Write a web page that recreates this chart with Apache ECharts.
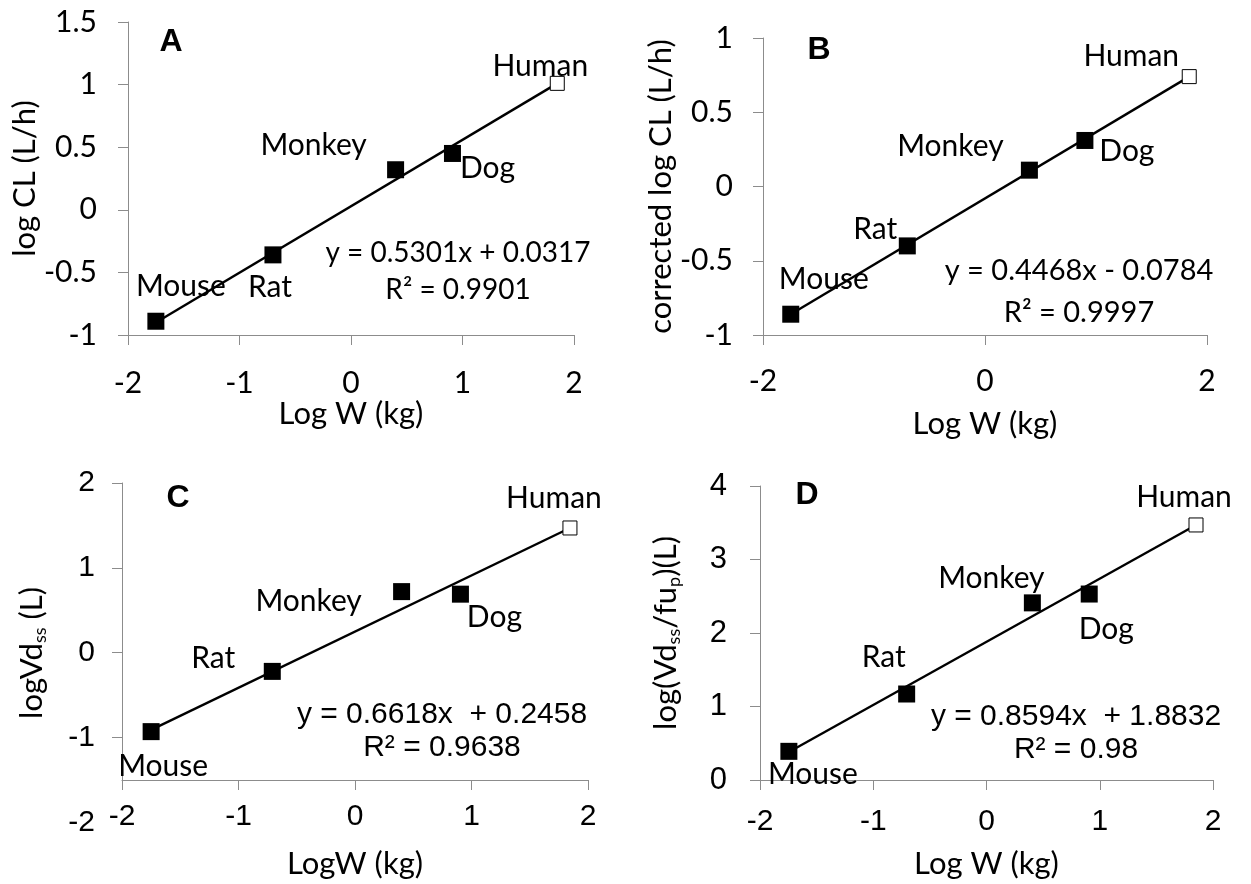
<!DOCTYPE html>
<html>
<head>
<meta charset="utf-8">
<script src="https://cdn.jsdelivr.net/npm/echarts@6/dist/echarts.min.js"></script>
<style>
  html, body { margin: 0; padding: 0; background: #fff; }
  #chart { width: 1251px; height: 884px; }
</style>
</head>
<body>
<div id="chart"></div>
<script>
// species, in the same order everywhere
const species = ['Mouse', 'Rat', 'Monkey', 'Dog', 'Human'];

// panel A : log CL vs log W
const logW_A = [-1.75, -0.70, 0.40, 0.91, 1.85];
const logCL_A = [-0.89, -0.36, 0.32, 0.45, 1.01];
const trend_A = [[-1.75, -0.90], [1.85, 1.01]];

// panel B : corrected log CL
const logW_B = [-1.75, -0.70, 0.40, 0.90, 1.84];
const corrCL_B = [-0.86, -0.40, 0.11, 0.31, 0.74];
const trend_B = [[-1.75, -0.86], [1.84, 0.74]];

// panel C : log Vdss
const logW_C = [-1.75, -0.71, 0.40, 0.905, 1.845];
const logVd_C = [-0.93, -0.22, 0.72, 0.69, 1.47];
const trend_C = [[-1.75, -0.91], [1.845, 1.47]];

// panel D : log(Vdss/fup)
const logW_D = [-1.745, -0.705, 0.405, 0.907, 1.85];
const logVdfu_D = [0.39, 1.17, 2.41, 2.53, 3.47];
const trend_D = [[-1.745, 0.38], [1.85, 3.47]];

// equation texts
const eqA = ['y = 0.5301x + 0.0317', 'R\u00b2 = 0.9901'];
const eqB = ['y = 0.4468x - 0.0784', 'R\u00b2 = 0.9997'];
const eqC = ['y = 0.6618x  + 0.2458', 'R\u00b2 = 0.9638'];
const eqD = ['y = 0.8594x  + 1.8832', 'R\u00b2 = 0.98'];

// label offsets (style only), order as species
const offA = [[25, -35], [-3, 32], [-82, -24], [35, 15], [-17, -17]];
const offB = [[33, -35], [-32, -17], [-79, -24], [42, 11], [-58, -20]];
const offC = [[12, 35], [-59, -13], [-93, 10], [34, 23], [-16, -30]];
const offD = [[24, 23], [-23, -37], [-41, -25], [17, 35], [-12, -28]];

const CAL = 'Lato';
const ARI = 'Liberation Sans';
const AXC = '#8c8c8c';

let dom = document.getElementById('chart');
let chart = echarts.init(dom, null, { renderer: 'canvas' });

function pointData(xs, ys, offs) {
    return xs.map(function (x, i) {
        let item = {
            value: [x, ys[i]],
            name: species[i],
            label: { offset: offs[i] }
        };
        if (species[i] === 'Human') {
            item.symbolSize = 14;
            item.itemStyle = { color: '#fff', borderColor: '#000', borderWidth: 1, opacity: 1 };
        }
        return item;
    });
}

function scatter(idx, xs, ys, offs) {
    return {
        type: 'scatter',
        xAxisIndex: idx,
        yAxisIndex: idx,
        symbol: 'rect',
        symbolSize: 17,
        itemStyle: { color: '#000', opacity: 1 },
        z: 5,
        label: {
            show: true,
            position: 'inside',
            formatter: '{b}',
            color: '#000',
            opacity: 1,
            fontFamily: CAL,
            fontSize: 30
        },
        data: pointData(xs, ys, offs)
    };
}

function trend(idx, pts) {
    return {
        type: 'line',
        xAxisIndex: idx,
        yAxisIndex: idx,
        symbol: 'none',
        lineStyle: { color: '#000', width: 2.4 },
        z: 3,
        data: pts
    };
}

function axis(extra) {
    let base = {
        type: 'value',
        axisLine: { show: true, onZero: false, lineStyle: { color: AXC, width: 1 } },
        axisTick: { show: true, length: 10, lineStyle: { color: AXC, width: 1 } },
        splitLine: { show: false },
        nameLocation: 'middle'
    };
    return Object.assign(base, extra);
}

function lbl(font, size, margin) {
    return { color: '#000', fontFamily: font, fontSize: size, margin: margin };
}
function nameStyle(font) {
    return {
        color: '#000', fontFamily: font, fontSize: 31,
        rich: {
            m: { fontFamily: font, fontSize: 31, lineHeight: 34, color: '#000' },
            s: { fontFamily: font, fontSize: 18, lineHeight: 34, verticalAlign: 'bottom', color: '#000' }
        }
    };
}

function eqText(x, y, lines, font, size) {
    return lines.map(function (t, i) {
        return {
            type: 'text',
            x: x,
            y: y[i],
            style: {
                text: t, fill: '#000', fontFamily: font, fontSize: size,
                align: 'center', verticalAlign: 'middle'
            }
        };
    });
}
function letter(x, y, t) {
    return {
        type: 'text', x: x, y: y,
        style: {
            text: t, fill: '#000', fontFamily: ARI, fontWeight: 'bold', fontSize: 32,
            align: 'center', verticalAlign: 'middle'
        }
    };
}

let option = {
    animation: false,
    backgroundColor: '#fff',
    grid: [
        { left: 128, top: 22, width: 446, height: 313 },
        { left: 763, top: 38, width: 444, height: 297 },
        { left: 122, top: 483, width: 466, height: 297 },
        { left: 760, top: 486, width: 453, height: 294 },
        { left: 122, top: 483, width: 466, height: 340 }
    ],
    xAxis: [
        axis({ gridIndex: 0, min: -2, max: 2, interval: 1, axisLabel: lbl(CAL, 30, 33),
            name: 'Log W (kg)', nameGap: 63, nameTextStyle: nameStyle(CAL) }),
        axis({ gridIndex: 1, min: -2, max: 2, interval: 2, axisLabel: lbl(CAL, 30, 31),
            name: 'Log W (kg)', nameGap: 73, nameTextStyle: nameStyle(CAL) }),
        axis({ gridIndex: 2, min: -2, max: 2, interval: 1, axisLabel: lbl(ARI, 30, 22),
            name: 'LogW (kg)', nameGap: 68, nameTextStyle: nameStyle(CAL) }),
        axis({ gridIndex: 3, min: -2, max: 2, interval: 1, axisLabel: lbl(ARI, 30, 27),
            name: 'Log W (kg)', nameGap: 68, nameTextStyle: nameStyle(CAL) }),
        axis({ gridIndex: 4, min: -2, max: 2, show: false })
    ],
    yAxis: [
        axis({ gridIndex: 0, min: -1, max: 1.5, interval: 0.5, axisLabel: lbl(CAL, 30, 31),
            name: 'log CL (L/h)', nameGap: 85, nameTextStyle: nameStyle(CAL) }),
        axis({ gridIndex: 1, min: -1, max: 1, interval: 0.5, axisLabel: lbl(CAL, 30, 30),
            name: 'corrected log CL (L/h)', nameGap: 84, nameTextStyle: nameStyle(CAL) }),
        axis({ gridIndex: 2, min: -1.5, max: 2,
            axisLabel: { show: false },
            axisTick: { show: true, length: 10, customValues: [-1, 0, 1, 2], lineStyle: { color: AXC, width: 1 } } }),
        axis({ gridIndex: 3, min: 0, max: 4, interval: 1, axisLabel: lbl(ARI, 31, 33),
            name: '{m|log(Vd}{s|ss}{m|/fu}{s|p}{m|)(L)}', nameGap: 77, nameTextStyle: nameStyle(CAL) }),
        axis({ gridIndex: 4, min: -2, max: 2, interval: 1,
            axisLine: { show: false, onZero: false }, axisTick: { show: false },
            axisLabel: lbl(ARI, 30, 27),
            name: '{m|logVd}{s|ss}{m| (L)}', nameGap: 73, nameTextStyle: nameStyle(CAL) })
    ],
    series: [
        trend(0, trend_A), scatter(0, logW_A, logCL_A, offA),
        trend(1, trend_B), scatter(1, logW_B, corrCL_B, offB),
        trend(2, trend_C), scatter(2, logW_C, logVd_C, offC),
        trend(3, trend_D), scatter(3, logW_D, logVdfu_D, offD)
    ],
    graphic: [
        letter(171, 42, 'A'), letter(819, 50, 'B'), letter(178, 498, 'C'), letter(807, 495, 'D')
    ].concat(
        eqText(458, [253, 290], eqA, CAL, 28),
        eqText(1079, [271, 313], eqB, CAL, 29),
        eqText(442, [715, 748], eqC, ARI, 30),
        eqText(1076, [717, 750], eqD, ARI, 30)
    )
};

option && chart.setOption(option);
</script>
</body>
</html>
